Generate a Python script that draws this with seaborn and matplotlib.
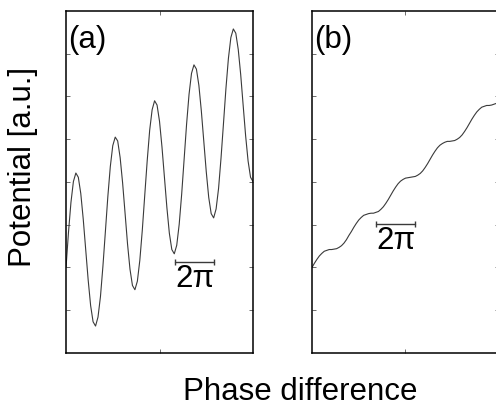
import matplotlib
matplotlib.use("Agg")
import matplotlib.pyplot as plt
import seaborn as sns

# phase samples (16 samples = one 2pi period)
phase = [0, 1, 2, 3, 4, 5, 6, 7, 8, 9, 10, 11, 12, 13, 14, 15,
         16, 17, 18, 19, 20, 21, 22, 23, 24, 25, 26, 27, 28, 29, 30, 31,
         32, 33, 34, 35, 36, 37, 38, 39, 40, 41, 42, 43, 44, 45, 46, 47,
         48, 49, 50, 51, 52, 53, 54, 55, 56, 57, 58, 59, 60, 61, 62, 63,
         64, 65, 66, 67, 68, 69, 70, 71, 72, 73, 74, 75, 76]

# panel (a): strongly modulated potential
potential_a = [2.00, 2.82, 3.52, 4.01, 4.21, 4.11, 3.73, 3.13,
               2.42, 1.71, 1.11, 0.73, 0.63, 0.84, 1.32, 2.03,
               2.84, 3.66, 4.36, 4.85, 5.05, 4.96, 4.57, 3.98,
               3.27, 2.55, 1.96, 1.58, 1.48, 1.68, 2.17, 2.87,
               3.69, 4.50, 5.21, 5.69, 5.90, 5.80, 5.42, 4.82,
               4.11, 3.40, 2.80, 2.42, 2.32, 2.52, 3.01, 3.71,
               4.53, 5.35, 6.05, 6.54, 6.74, 6.64, 6.26, 5.66,
               4.95, 4.24, 3.64, 3.26, 3.16, 3.37, 3.85, 4.56,
               5.37, 6.19, 6.89, 7.38, 7.58, 7.48, 7.10, 6.51,
               5.79, 5.08, 4.49, 4.11, 4.01]

# panel (b): weakly modulated (tilted washboard) potential
potential_b = [2.00, 2.10, 2.19, 2.27, 2.33, 2.38, 2.40, 2.42,
               2.42, 2.43, 2.44, 2.47, 2.51, 2.57, 2.65, 2.75,
               2.84, 2.94, 3.03, 3.11, 3.17, 3.22, 3.24, 3.26,
               3.27, 3.27, 3.29, 3.31, 3.36, 3.42, 3.50, 3.59,
               3.69, 3.79, 3.88, 3.96, 4.02, 4.06, 4.09, 4.10,
               4.11, 4.12, 4.13, 4.16, 4.20, 4.26, 4.34, 4.43,
               4.53, 4.63, 4.72, 4.80, 4.86, 4.90, 4.93, 4.95,
               4.95, 4.96, 4.97, 5.00, 5.04, 5.10, 5.18, 5.27,
               5.37, 5.47, 5.56, 5.64, 5.70, 5.75, 5.77, 5.79,
               5.79, 5.80, 5.82, 5.84, 5.89]

panel_labels = ["(a)", "(b)"]
period = 16            # length of 2pi in phase samples
bar_starts = [44.3, 26.0]
bar_levels = [2.13, 3.02]

sns.set_style("ticks")
plt.rcParams['font.family'] = ['Liberation Sans', 'DejaVu Sans']
plt.rcParams['text.color'] = 'black'

LINE = "#3a3a3a"
FS = 22.5

fig = plt.figure(figsize=(4.96, 4.07), dpi=100)
ax_a = fig.add_axes([0.1331, 0.1327, 0.377, 0.8403])
ax_b = fig.add_axes([0.629, 0.1327, 0.377, 0.8403])

for ax, values, label, bar_start, bar_level in zip(
        [ax_a, ax_b], [potential_a, potential_b], panel_labels, bar_starts, bar_levels):
    sns.lineplot(x=phase, y=values, ax=ax, color=LINE, linewidth=0.8)
    ax.set_xlim(0, 76)
    ax.set_ylim(0, 8)
    ax.set_xticks([38])
    ax.set_yticks([1, 2, 3, 4, 5, 6, 7])
    ax.tick_params(direction='in', length=3, width=0.6, color='#555555',
                   top=True, right=True, labelbottom=False, labelleft=False)
    for spine in ax.spines.values():
        spine.set_visible(True)
        spine.set_linewidth(1.1)
        spine.set_color('black')
    ax.set_xlabel('')
    ax.set_ylabel('')
    ax.text(0.012, 0.958, label, transform=ax.transAxes, fontsize=FS, va='top', ha='left')

    # 2pi scale bar
    ax.plot([bar_start, bar_start + period], [bar_level, bar_level], color=LINE,
            linewidth=1.0, marker='|', markersize=5, markeredgewidth=1.0)
    ax.text(bar_start + period / 2, bar_level - 0.06, "2π", ha='center', va='top', fontsize=FS)

fig.text(300 / 496, 0.018, "Phase difference", ha='center', va='baseline', fontsize=FS)
fig.text(0.046, 0.59, "Potential [a.u.]", rotation=90, ha='center', va='center', fontsize=FS)

fig.savefig("out.png", dpi=100)
